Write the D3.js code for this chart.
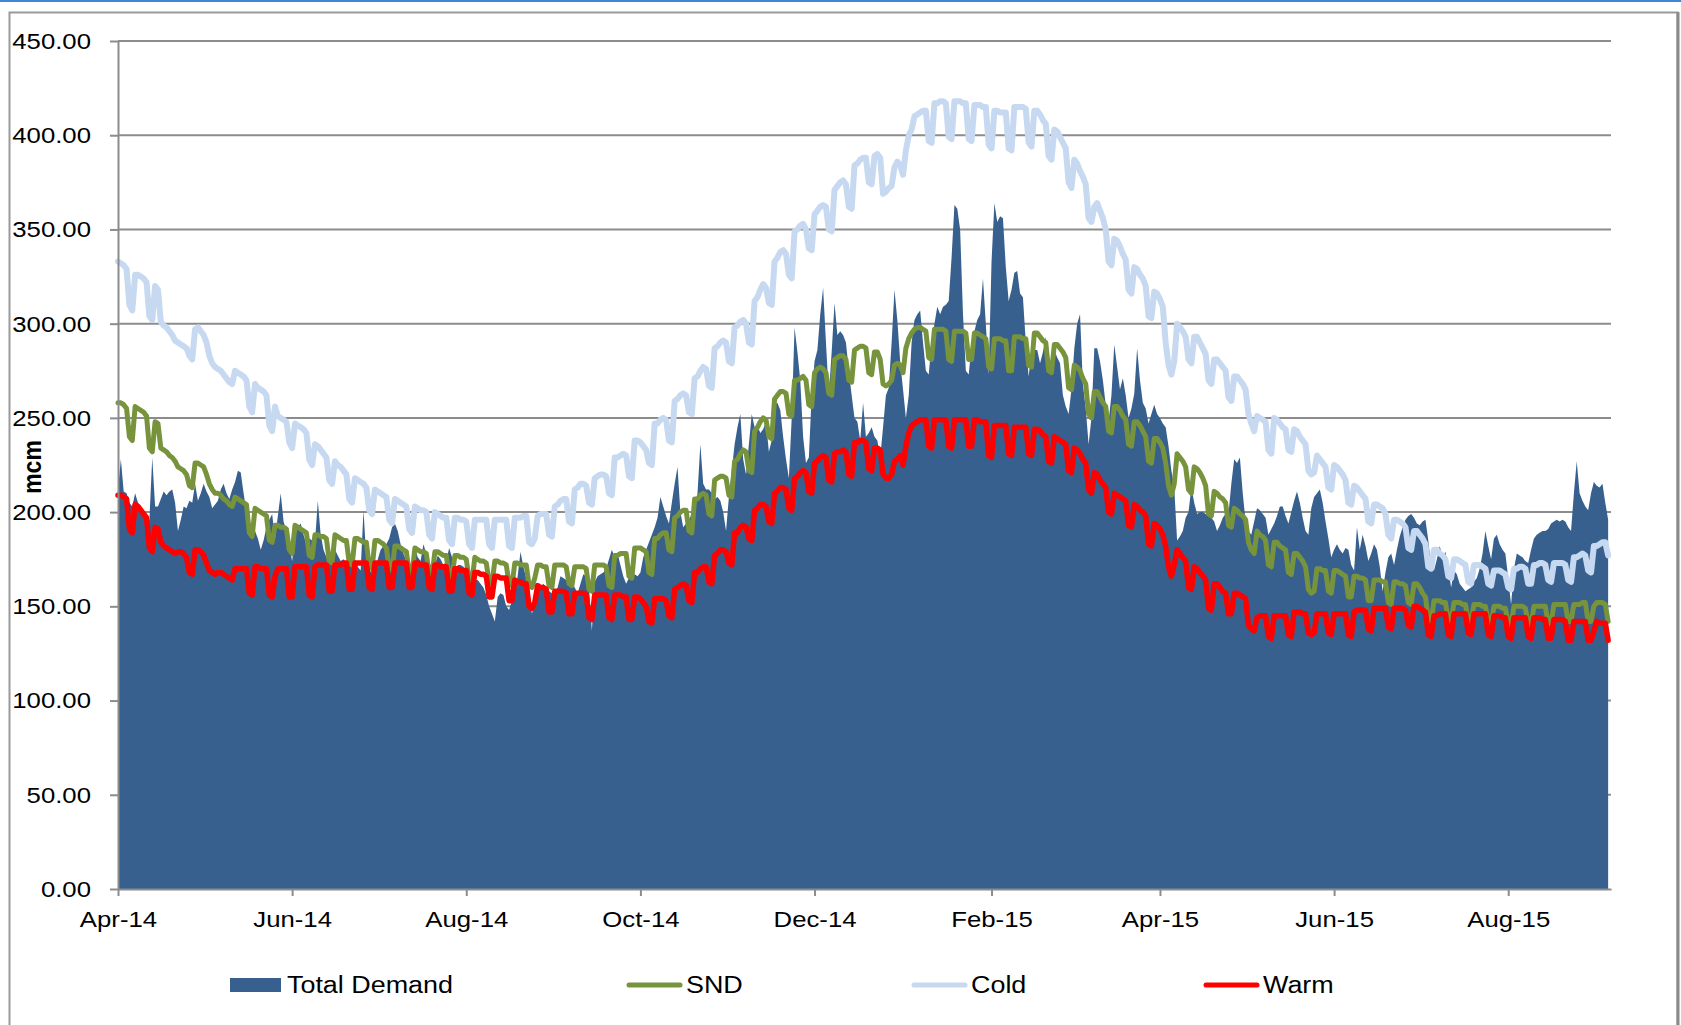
<!DOCTYPE html>
<html>
<head>
<meta charset="utf-8">
<script src="https://cdn.jsdelivr.net/npm/d3@7"></script>
<style>
  body { margin: 0; background: #fff; }
  svg text { font-family: "Liberation Sans", Arial, sans-serif; fill: #000; }
</style>
</head>
<body>
<svg id="chart" width="1681" height="1025"></svg>
<script>
// daily values in mcm, first day 1 Apr 2014, one row per week (Tue..Mon)
const startDate = Date.UTC(2014, 3, 1)
const endDate = Date.UTC(2015, 8, 6)
const yTicks = [0, 50, 100, 150, 200, 250, 300, 350, 400, 450]
const yTitle = 'mcm'

const totalDemand = [
  212,228,211,210,205,203,210, 205,203,200,190,196,229,203, 203,207,211,209,211,212,205, 190,196,203,202,206,205,215,
  206,210,215,211,208,202,204, 206,212,215,210,207,212,216, 222,221,210,200,194,192,190, 186,180,185,192,196,199,186,
  198,210,195,190,182,174,187, 192,194,188,183,186,185,184, 206,188,180,176,173,176,180, 177,174,175,173,172,174,175,
  171,169,201,175,170,167,166, 175,180,182,183,186,192,194, 190,183,178,174,172,171,181, 176,174,183,178,173,171,172,
  177,175,172,174,181,176,164, 172,172,171,169,166,165,164, 164,162,160,156,150,146,142, 155,157,156,150,148,153,158,
  166,179,171,165,160,146,152, 158,160,162,160,158,157,157, 160,166,165,164,163,162,160, 157,162,167,166,160,137,163,
  166,167,168,170,175,180,176, 178,172,166,162,165,166,167, 166,168,176,180,184,188,192, 197,208,203,198,194,205,215,
  224,200,192,194,196,199,201, 210,236,215,212,212,210,207, 208,206,200,190,208,222,236, 245,252,228,220,236,252,245,
  246,242,244,248,232,238,257, 258,254,240,228,218,250,298, 285,270,240,226,229,262,280, 286,305,319,290,262,285,311,
  294,296,294,290,275,262,250, 248,238,258,240,242,245,240, 238,229,245,262,266,290,318, 302,280,265,250,262,290,302,
  305,307,290,275,273,290,300, 309,305,309,310,312,335,363, 361,350,305,275,273,288,296, 302,305,324,300,273,333,364,
  354,357,356,330,312,318,327, 328,316,314,290,272,285,286, 286,279,285,293,277,278,286, 282,279,262,256,252,265,287,
  300,305,268,255,236,250,287, 287,280,270,257,248,262,289, 277,265,271,262,250,255,263, 287,270,258,255,247,252,257,
  252,250,247,245,235,222,213, 185,187,190,197,200,213,205, 199,200,200,199,198,197,195, 190,193,197,199,199,215,228,
  226,229,210,195,190,188,195, 202,201,199,197,188,191,194, 198,203,203,198,194,200,206, 211,205,197,190,188,202,208,
  210,212,205,195,186,176,180, 183,180,178,181,180,172,169, 192,180,188,182,174,178,183, 180,171,158,168,176,178,172,
  180,187,192,196,198,199,197, 194,193,195,196,185,171,169, 175,182,176,179,170,160,169, 167,162,160,158,159,160,163,
  165,170,178,190,182,175,186, 188,183,180,178,165,151,170, 178,177,176,174,173,180,186, 188,189,190,190,191,194,195,
  196,195,196,195,192,190,210, 227,210,206,203,201,210,216, 214,213,215,205,196
]

const snd = [
  258,258,257,255,240,238,256, 255,254,253,251,234,232,248, 247,234,233,232,230,229,227, 224,223,222,220,214,213,226,
  226,225,224,220,215,212,210, 210,209,207,206,204,203,208, 207,206,205,204,189,187,202, 201,200,199,198,185,184,193,
  193,192,192,191,180,178,193, 192,191,190,189,177,176,188, 188,187,187,186,174,173,188, 187,186,185,185,173,172,186,
  186,185,184,184,171,170,185, 185,184,183,181,170,169,182, 182,181,180,179,168,167,181, 180,179,179,178,167,166,179,
  179,178,177,177,166,165,177, 177,176,176,175,164,163,176, 175,174,174,173,163,162,174, 174,173,173,172,162,161,173,
  173,172,172,172,161,160,165, 172,172,171,171,161,160,172, 172,172,172,171,162,161,171, 171,171,171,170,159,158,172,
  172,172,172,171,161,160,177, 177,178,178,178,166,165,181, 181,181,180,179,168,167,186, 186,188,189,189,180,179,197,
  198,200,201,201,190,189,207, 207,209,210,209,199,198,217, 218,219,219,218,209,208,227, 228,231,233,232,222,221,243,
  245,248,250,249,240,239,260, 262,264,264,263,252,251,270, 270,271,272,270,257,256,274, 276,277,276,274,263,262,281,
  282,283,283,281,270,269,286, 287,288,288,287,274,273,285, 285,281,268,267,268,270,278, 279,278,274,287,292,295,297,
  298,298,297,296,282,281,297, 297,297,297,296,281,280,296, 296,296,296,295,281,281,295, 295,294,293,292,277,276,292,
  292,292,291,291,275,275,293, 293,293,292,292,278,277,295, 295,293,291,290,275,274,289, 289,287,285,282,266,265,278,
  277,275,271,268,252,250,264, 264,261,258,256,243,242,256, 256,254,251,249,236,235,248, 248,246,243,240,227,226,239,
  239,237,234,226,214,209,215, 231,229,227,224,212,210,224, 223,221,218,214,199,198,211, 210,208,207,205,193,192,202,
  201,199,198,196,184,180,178, 190,188,187,185,172,171,184, 184,182,181,180,168,167,178, 178,176,174,171,159,157,158,
  170,170,169,169,158,157,169, 169,168,167,166,155,155,166, 166,165,165,164,153,153,164, 164,164,163,163,152,151,163,
  163,162,162,161,152,151,162, 162,160,157,155,143,142,153, 153,153,152,152,143,142,152, 152,152,151,151,142,142,151,
  151,151,150,150,142,141,150, 150,150,149,149,141,140,150, 150,150,150,149,141,140,150, 150,150,150,150,141,141,151,
  151,151,151,151,142,142,151, 151,151,152,152,142,142,150, 152,152,152,151,142
]

const cold = [
  333,332,331,329,310,307,326, 326,325,324,322,304,302,320, 318,301,299,298,296,294,291, 290,289,288,287,283,281,297,
  298,296,294,290,283,279,277, 276,275,273,271,269,268,275, 274,273,272,270,256,253,268, 266,265,264,262,246,243,256,
  251,250,249,248,237,234,247, 246,245,244,242,228,225,236, 235,233,231,229,217,215,227, 225,224,222,220,207,205,218,
  217,216,215,213,201,199,212, 211,210,209,208,196,194,207, 206,205,204,203,191,189,203, 202,201,201,200,188,186,200,
  199,198,197,197,185,183,197, 197,196,196,195,183,181,196, 196,196,196,196,183,181,196, 196,196,196,196,182,181,197,
  197,197,198,198,184,183,186, 198,199,199,199,188,187,203, 204,206,207,207,195,194,212, 213,215,215,214,205,204,218,
  219,220,220,219,210,209,229, 229,230,231,230,219,218,238, 238,237,235,233,226,225,247, 247,249,250,249,238,237,259,
  260,262,263,262,253,252,271, 272,275,277,276,267,266,287, 288,290,291,290,280,279,298, 299,301,302,300,290,289,312,
  314,318,321,319,311,310,333, 335,338,339,337,326,324,349, 350,352,353,350,340,339,358, 360,362,363,362,350,349,371,
  373,375,376,374,362,361,384, 385,387,388,388,375,374,389, 390,388,369,370,372,373,383, 386,384,379,392,400,403,410,
  411,412,413,413,397,396,417, 417,418,418,417,399,398,418, 418,418,417,417,398,397,416, 416,416,415,415,395,393,413,
  413,412,412,412,393,392,415, 415,415,415,414,396,394,413, 413,411,408,406,389,387,403, 402,399,396,393,375,372,387,
  385,381,378,374,356,354,362, 364,360,356,350,333,331,345, 344,341,337,334,318,316,330, 329,326,324,320,304,303,317,
  316,313,309,290,278,273,280, 300,298,296,293,281,279,293, 293,290,287,284,270,268,281, 281,279,277,275,261,259,272,
  272,270,268,265,252,247,243, 251,250,249,248,233,231,250, 249,247,245,244,233,232,244, 243,240,238,236,222,220,221,
  230,228,226,224,213,212,225, 224,222,220,217,205,204,214, 213,211,209,207,195,194,204, 204,203,202,199,188,186,196,
  196,195,194,192,181,180,190, 190,188,186,183,171,170,180, 180,178,177,175,166,165,175, 175,174,173,172,163,162,172,
  172,172,171,170,162,161,169, 169,169,168,167,160,159,170, 170,171,171,170,162,162,172, 172,173,173,172,164,163,173,
  173,173,173,172,164,163,176, 176,177,178,177,169,168,182, 182,183,184,184,177
]

const warm = [
  209,209,208,207,191,189,204, 203,201,199,197,181,179,192, 191,184,182,181,180,179,178, 179,179,178,176,168,167,180,
  180,179,177,173,169,168,167, 168,168,167,166,165,164,170, 170,170,170,170,157,156,171, 171,170,170,170,156,155,166,
  170,170,170,170,155,155,171, 171,171,171,171,156,155,171, 172,172,172,172,158,158,172, 172,172,173,173,159,159,173,
  173,173,173,173,160,159,173, 173,173,173,173,160,160,173, 173,173,173,173,160,160,173, 173,172,172,172,160,159,172,
  172,171,171,171,158,158,170, 170,169,169,169,157,156,168, 168,167,167,166,155,155,166, 166,165,165,165,153,153,164,
  163,163,162,162,150,149,152, 161,160,160,159,147,147,158, 158,158,158,157,146,146,157, 157,157,157,156,144,143,156,
  156,156,156,156,144,143,156, 156,156,155,155,143,143,155, 155,154,152,150,142,141,154, 154,154,154,153,145,144,159,
  160,161,162,161,153,152,168, 168,170,171,171,163,162,177, 178,180,180,179,173,172,189, 189,192,193,192,186,185,201,
  202,204,204,203,195,194,210, 211,213,213,212,202,201,218, 219,221,222,221,211,210,226, 227,229,230,229,217,216,231,
  232,232,233,232,220,219,237, 237,238,238,237,223,222,234, 234,233,220,218,218,220,227, 228,230,225,235,242,246,247,
  248,249,249,249,235,234,249, 249,249,249,249,235,234,249, 249,249,249,249,235,235,249, 249,248,248,248,230,229,246,
  246,246,246,246,231,230,245, 245,245,245,245,231,230,244, 244,243,241,240,227,226,240, 239,238,237,236,222,221,234,
  233,231,228,226,212,210,221, 220,217,215,213,200,199,210, 209,208,207,206,193,192,204, 203,201,200,198,183,182,194,
  193,191,188,182,171,166,172, 180,178,176,174,160,159,171, 170,168,166,164,149,148,162, 162,160,158,157,146,146,157,
  157,156,155,154,140,138,137, 144,145,145,145,134,133,145, 145,145,145,145,135,134,147, 147,147,146,146,136,135,136,
  146,146,146,146,136,135,146, 146,146,146,146,135,134,147, 148,148,148,148,138,137,149, 149,149,149,149,139,138,149,
  149,149,149,148,140,139,150, 150,149,148,147,135,134,145, 145,146,146,146,135,134,146, 146,146,146,146,136,135,146,
  146,146,146,146,135,134,145, 145,145,144,144,134,133,144, 144,144,144,144,134,133,144, 144,144,143,143,133,133,143,
  143,143,143,142,132,132,142, 142,142,142,142,132,132,137, 142,141,141,141,132
]

const lineSeries = [
  { name: 'SND', values: snd, color: '#77933c', width: 5 },
  { name: 'Cold', values: cold, color: '#c6d9f1', width: 6 },
  { name: 'Warm', values: warm, color: '#ff0000', width: 5.5 }
]
const areaColor = '#37608f'

const dayDate = i => new Date(startDate + i * 86400000)
const toPoints = arr => arr.map((v, i) => ({ date: dayDate(i), v: v }))

const stretch = 1.12   // the reference text is a bit wide
const svg = d3.select('#chart')

// frame
svg.append('rect').attr('x', 0).attr('y', 0).attr('width', 1681).attr('height', 2).attr('fill', '#3f86d4')
svg.append('rect').attr('x', 9.5).attr('y', 12.5).attr('width', 1668).attr('height', 1040)
  .attr('fill', 'none').attr('stroke', '#9a9a9a').attr('stroke-width', 2)
svg.append('line').attr('x1', 1678).attr('x2', 1678).attr('y1', 12).attr('y2', 1025)
  .attr('stroke', '#8a8a8a').attr('stroke-width', 3)

const x = d3.scaleUtc().domain([new Date(startDate), new Date(endDate)]).range([118, 1611])
const y = d3.scaleLinear().domain([0, 450]).range([889, 41])

// gridlines
svg.append('g').attr('class', 'grid')
  .selectAll('line').data(yTicks.filter(d => d > 0)).enter().append('line')
  .attr('x1', x.range()[0]).attr('x2', x.range()[1])
  .attr('y1', d => y(d)).attr('y2', d => y(d))
  .attr('stroke', '#8c8c8c').attr('stroke-width', 2)

// area
const area = d3.area().x(d => x(d.date)).y0(y(0)).y1(d => y(d.v))
svg.append('path').datum(toPoints(totalDemand)).attr('d', area).attr('fill', areaColor)

// lines
const line = d3.line().x(d => x(d.date)).y(d => y(d.v))
lineSeries.forEach(s => {
  svg.append('path').datum(toPoints(s.values)).attr('d', line)
    .attr('fill', 'none').attr('stroke', s.color).attr('stroke-width', s.width)
    .attr('stroke-linejoin', 'round').attr('stroke-linecap', 'round')
})

// axes, a label every second month starting in April
const monthTicks = d3.utcMonth.range(new Date(startDate), new Date(endDate), 2)
const yAxis = svg.append('g').attr('transform', `translate(${x.range()[0]},0)`)
  .call(d3.axisLeft(y).tickValues(yTicks).tickSize(8).tickSizeOuter(0).tickFormat(d3.format('.2f')))
const xAxis = svg.append('g').attr('transform', `translate(0,${y(0)})`)
  .call(d3.axisBottom(x).tickValues(monthTicks).tickSize(7).tickSizeOuter(0).tickFormat(d3.utcFormat('%b-%y')))

;[yAxis, xAxis].forEach(a => {
  a.select('.domain').attr('stroke', '#8c8c8c').attr('stroke-width', 2)
  a.selectAll('.tick line').attr('stroke', '#8c8c8c').attr('stroke-width', 2)
  a.selectAll('text').attr('font-size', 23).attr('font-family', '"Liberation Sans", Arial, sans-serif')
    .attr('fill', '#000').attr('transform', `scale(${stretch},1)`)
})
yAxis.selectAll('text').attr('x', -27 / stretch)
xAxis.selectAll('text').attr('y', 22)

// axis title
svg.append('text')
  .attr('transform', `translate(32,467) scale(${stretch},1) rotate(-90)`)
  .attr('text-anchor', 'middle').attr('dy', '0.35em')
  .attr('font-size', 23).attr('font-weight', 'bold')
  .text(yTitle)

// legend
const legendItems = [
  { name: 'Total Demand', kind: 'area', color: areaColor, x: 230 },
  { name: 'SND', kind: 'line', color: '#77933c', x: 627 },
  { name: 'Cold', kind: 'line', color: '#c6d9f1', x: 912 },
  { name: 'Warm', kind: 'line', color: '#ff0000', x: 1204 }
]
const legend = svg.append('g').attr('class', 'legend')
legendItems.forEach(it => {
  const g = legend.append('g').attr('transform', `translate(${it.x},985)`)
  if (it.kind === 'area') {
    g.append('rect').attr('x', 0).attr('y', -7).attr('width', 51).attr('height', 14).attr('fill', it.color)
  } else {
    g.append('line').attr('x1', 2).attr('x2', 53).attr('y1', 0).attr('y2', 0)
      .attr('stroke', it.color).attr('stroke-width', 5).attr('stroke-linecap', 'round')
  }
  g.append('text')
    .attr('transform', `translate(${it.kind === 'area' ? 57 : 59},0) scale(1.17,1)`)
    .attr('dy', '0.35em').attr('font-size', 23)
    .text(it.name)
})
</script>
</body>
</html>
